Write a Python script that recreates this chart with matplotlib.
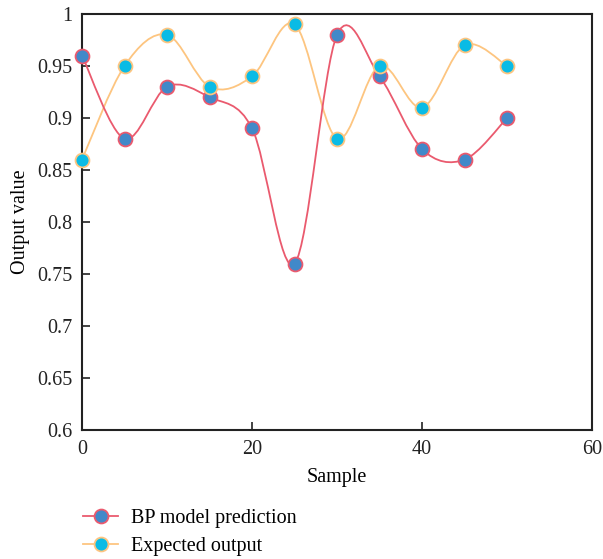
import matplotlib
matplotlib.use('Agg')
import matplotlib.pyplot as plt
from matplotlib.path import Path
from matplotlib.patches import PathPatch
from matplotlib.lines import Line2D
from matplotlib.ticker import FuncFormatter

plt.rcParams['font.family'] = ['Liberation Serif', 'DejaVu Serif']

samples = [0, 5, 10, 15, 20, 25, 30, 35, 40, 45, 50]
bp_pred = [0.96, 0.88, 0.93, 0.92, 0.89, 0.76, 0.98, 0.94, 0.87, 0.86, 0.90]
expected = [0.86, 0.95, 0.98, 0.93, 0.94, 0.99, 0.88, 0.95, 0.91, 0.97, 0.95]

x_ticks = [0, 20, 40, 60]
y_ticks = [0.6, 0.65, 0.7, 0.75, 0.8, 0.85, 0.9, 0.95, 1.0]

BP_LINE = '#ea5a6e'
BP_FACE = '#4189c9'
EX_LINE = '#fdc580'
EX_FACE = '#0abbe5'
FS = 14.5


def smooth_path(xs, ys):
    # catmull-rom curve through the points, as cubic bezier segments
    pts = list(zip(xs, ys))
    n = len(pts)
    verts = [pts[0]]
    codes = [Path.MOVETO]
    for i in range(n - 1):
        p0 = pts[max(i - 1, 0)]
        p1 = pts[i]
        p2 = pts[i + 1]
        p3 = pts[min(i + 2, n - 1)]
        c1 = (p1[0] + (p2[0] - p0[0]) / 6, p1[1] + (p2[1] - p0[1]) / 6)
        c2 = (p2[0] - (p3[0] - p1[0]) / 6, p2[1] - (p3[1] - p1[1]) / 6)
        verts += [c1, c2, p2]
        codes += [Path.CURVE4] * 3
    return Path(verts, codes)


fig = plt.figure(figsize=(6.03, 5.59), dpi=100)
ax = fig.add_axes([0.136, 0.231, 0.846, 0.744])

ax.add_patch(PathPatch(smooth_path(samples, expected), facecolor='none',
                       edgecolor=EX_LINE, lw=1.3, zorder=2))
ax.add_patch(PathPatch(smooth_path(samples, bp_pred), facecolor='none',
                       edgecolor=BP_LINE, lw=1.3, zorder=2))
ax.plot(samples, bp_pred, 'o', ms=10, mfc=BP_FACE, mec=BP_LINE, mew=1.3,
        zorder=3, clip_on=False)
ax.plot(samples, expected, 'o', ms=10, mfc=EX_FACE, mec=EX_LINE, mew=1.3,
        zorder=4, clip_on=False)

ax.set_xlim(0, 60)
ax.set_ylim(0.6, 1.0)
ax.set_xticks(x_ticks)
ax.set_yticks(y_ticks)
ax.yaxis.set_major_formatter(FuncFormatter(lambda v, p: '%g' % round(v, 2)))
ax.tick_params(direction='in', length=6, width=1.2, labelsize=FS, colors='#222222', pad=7)
for s in ax.spines.values():
    s.set_linewidth(1.5)
    s.set_color('#222222')

ax.set_xlabel('Sample', fontsize=FS, labelpad=7)
ax.set_ylabel('Output value', fontsize=FS, labelpad=5)

handles = [
    Line2D([], [], color=BP_LINE, lw=1.3, marker='o', ms=10, mfc=BP_FACE, mec=BP_LINE, mew=1.3),
    Line2D([], [], color=EX_LINE, lw=1.3, marker='o', ms=10, mfc=EX_FACE, mec=EX_LINE, mew=1.3),
]
fig.legend(handles, ['BP model prediction', 'Expected output'], loc='upper left',
           bbox_to_anchor=(83 / 603, 1 - 509 / 559), frameon=False, fontsize=FS,
           handlelength=1.75, handletextpad=0.65, labelspacing=0.45,
           borderpad=0, borderaxespad=0)

fig.savefig('out.png', dpi=100)
